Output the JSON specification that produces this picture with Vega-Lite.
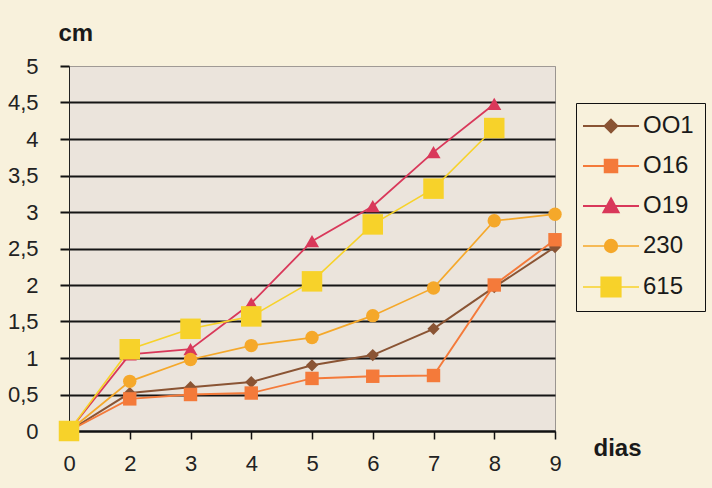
{
  "$schema": "https://vega.github.io/schema/vega-lite/v6.json",
  "width": 486,
  "height": 365,
  "autosize": {"type": "none"},
  "padding": {"left": 69, "top": 66, "right": 157, "bottom": 57},
  "background": "#f8f1dc",
  "config": {
    "font": "Liberation Sans",
    "view": {"fill": "#ebe4dc", "stroke": "#9a9590", "strokeWidth": 1}
  },
  "data": {
    "values": [
      {"dia": 0, "cm": 0, "serie": "OO1"},
      {"dia": 2, "cm": 0.52, "serie": "OO1"},
      {"dia": 3, "cm": 0.6, "serie": "OO1"},
      {"dia": 4, "cm": 0.67, "serie": "OO1"},
      {"dia": 5, "cm": 0.9, "serie": "OO1"},
      {"dia": 6, "cm": 1.04, "serie": "OO1"},
      {"dia": 7, "cm": 1.4, "serie": "OO1"},
      {"dia": 8, "cm": 1.97, "serie": "OO1"},
      {"dia": 9, "cm": 2.52, "serie": "OO1"},
      {"dia": 0, "cm": 0, "serie": "O16"},
      {"dia": 2, "cm": 0.44, "serie": "O16"},
      {"dia": 3, "cm": 0.5, "serie": "O16"},
      {"dia": 4, "cm": 0.52, "serie": "O16"},
      {"dia": 5, "cm": 0.72, "serie": "O16"},
      {"dia": 6, "cm": 0.75, "serie": "O16"},
      {"dia": 7, "cm": 0.76, "serie": "O16"},
      {"dia": 8, "cm": 2.0, "serie": "O16"},
      {"dia": 9, "cm": 2.62, "serie": "O16"},
      {"dia": 0, "cm": 0, "serie": "O19"},
      {"dia": 2, "cm": 1.05, "serie": "O19"},
      {"dia": 3, "cm": 1.12, "serie": "O19"},
      {"dia": 4, "cm": 1.75, "serie": "O19"},
      {"dia": 5, "cm": 2.6, "serie": "O19"},
      {"dia": 6, "cm": 3.08, "serie": "O19"},
      {"dia": 7, "cm": 3.82, "serie": "O19"},
      {"dia": 8, "cm": 4.48, "serie": "O19"},
      {"dia": 0, "cm": 0, "serie": "230"},
      {"dia": 2, "cm": 0.68, "serie": "230"},
      {"dia": 3, "cm": 0.98, "serie": "230"},
      {"dia": 4, "cm": 1.17, "serie": "230"},
      {"dia": 5, "cm": 1.28, "serie": "230"},
      {"dia": 6, "cm": 1.58, "serie": "230"},
      {"dia": 7, "cm": 1.96, "serie": "230"},
      {"dia": 8, "cm": 2.88, "serie": "230"},
      {"dia": 9, "cm": 2.97, "serie": "230"},
      {"dia": 0, "cm": 0, "serie": "615"},
      {"dia": 2, "cm": 1.12, "serie": "615"},
      {"dia": 3, "cm": 1.4, "serie": "615"},
      {"dia": 4, "cm": 1.57, "serie": "615"},
      {"dia": 5, "cm": 2.05, "serie": "615"},
      {"dia": 6, "cm": 2.83, "serie": "615"},
      {"dia": 7, "cm": 3.32, "serie": "615"},
      {"dia": 8, "cm": 4.15, "serie": "615"}
    ]
  },
  "encoding": {
    "x": {
      "field": "dia", "type": "ordinal",
      "scale": {"type": "point", "padding": 0},
      "axis": {
        "title": "dias", "titleX": 524, "titleY": 24, "titleAlign": "left", "titleBaseline": "alphabetic",
        "titleFontSize": 24, "titleFontWeight": "bold", "titleColor": "#1a1a1a",
        "labelAngle": 0, "labelFontSize": 22, "labelColor": "#222", "labelPadding": 14,
        "domain": true, "domainColor": "#111", "domainWidth": 2,
        "ticks": true, "tickColor": "#111", "tickSize": 8, "tickWidth": 1.5,
        "grid": false
      }
    },
    "y": {
      "field": "cm", "type": "quantitative",
      "scale": {"domain": [0, 5], "nice": false},
      "axis": {
        "title": "cm", "titleAngle": 0, "titleX": -11, "titleY": -26, "titleAlign": "left", "titleBaseline": "alphabetic",
        "titleFontSize": 24, "titleFontWeight": "bold", "titleColor": "#1a1a1a",
        "values": [0, 0.5, 1, 1.5, 2, 2.5, 3, 3.5, 4, 4.5, 5],
        "labelExpr": "replace(toString(datum.value), '.', ',')",
        "labelFontSize": 22, "labelColor": "#222", "labelPadding": 22,
        "domain": true, "domainColor": "#222", "domainWidth": 1,
        "ticks": true, "tickColor": "#111", "tickSize": 9, "tickWidth": 2,
        "grid": true,
        "gridColor": {"condition": {"test": "datum.value === 5", "value": "#a09a95"}, "value": "#151515"},
        "gridWidth": {"condition": {"test": "datum.value === 5", "value": 1}, "value": 2}
      }
    },
    "color": {
      "field": "serie", "type": "nominal",
      "scale": {"domain": ["OO1", "O16", "O19", "230", "615"], "range": ["#8a5434", "#f47a3a", "#d9385a", "#f5a82a", "#f7d22a"]},
      "legend": {
        "title": null, "orient": "none", "legendX": 507, "legendY": 37,
        "strokeColor": "#111", "fillColor": "#f8f1dc", "padding": 11,
        "labelFontSize": 24, "labelColor": "#1a1a1a", "labelFont": "Liberation Sans",
        "rowPadding": 16, "symbolSize": 196, "symbolOffset": 12, "labelOffset": 20,
        "symbolStrokeWidth": 1.5, "symbolOpacity": 1,
        "symbolType": {"expr": "datum.value === 'OO1' ? 'M-4,0H4M0,-0.9L0.9,0L0,0.9L-0.9,0Z' : datum.value === 'O16' ? 'M-4,0H4M-0.9,-0.9H0.9V0.9H-0.9Z' : datum.value === 'O19' ? 'M-4,0H4M0,-1.1L1.1,0.9H-1.1Z' : datum.value === '230' ? 'M-4,0H4M0.9,0A0.9,0.9,0,1,1,-0.9,0A0.9,0.9,0,1,1,0.9,0Z' : 'M-4,0H4M-1.4,-1.4H1.4V1.4H-1.4Z'"},
        "symbolStrokeColor": {"expr": "scale('color', datum.value)"},
        "symbolFillColor": {"expr": "scale('color', datum.value)"}
      }
    }
  },
  "layer": [
    {
      "mark": {"type": "line"},
      "encoding": {
        "strokeWidth": {
          "field": "serie", "type": "nominal",
          "scale": {"domain": ["OO1", "O16", "O19", "230", "615"], "range": [2, 1.6, 2.5, 1.5, 1.5]},
          "legend": null
        }
      }
    },
    {
      "mark": {
        "type": "point", "filled": true, "opacity": 1,
        "shape": {"expr": "datum.serie === 'OO1' ? 'diamond' : datum.serie === 'O19' ? 'triangle-up' : datum.serie === '230' ? 'circle' : 'square'"},
        "size": {"expr": "datum.serie === '615' ? 420 : datum.serie === 'OO1' ? 150 : datum.serie === 'O19' ? 200 : 180"}
      }
    }
  ]
}
